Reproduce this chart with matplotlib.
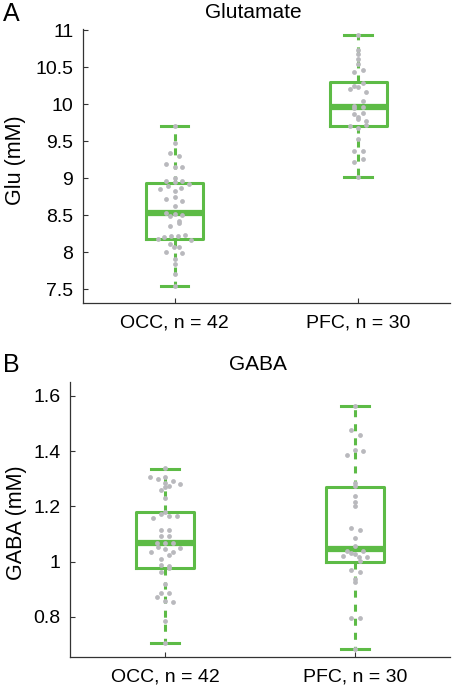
import matplotlib
matplotlib.use('Agg')
import matplotlib.pyplot as plt
import numpy as np

plt.rcParams['font.family'] = ['Liberation Sans', 'DejaVu Sans']

green = '#5dbb46'
grey = '#b9b9bd'
spine_col = '#333333'

tick_labels = ['OCC, n = 42', 'PFC, n = 30']
glu_yticks = [7.5, 8, 8.5, 9, 9.5, 10, 10.5, 11]
gaba_yticks = [0.8, 1, 1.2, 1.4, 1.6]

# box stats: whislo, q1, median, q3, whishi
glu_box_occ = [7.55, 8.18, 8.54, 8.94, 9.71]
glu_box_pfc = [9.02, 9.71, 9.96, 10.30, 10.94]
gaba_box_occ = [0.705, 0.976, 1.067, 1.178, 1.335]
gaba_box_pfc = [0.685, 1.0, 1.045, 1.271, 1.564]

# single subjects (value, horizontal offset from the box centre)
glu_occ = [9.71, 9.48, 9.34, 9.31, 9.20, 9.15, 9.15, 9.01, 8.97, 8.95,
           8.97, 8.92, 8.86, 8.90, 8.835, 8.875, 8.72, 8.755, 8.70, 8.63,
           8.54, 8.49, 8.52, 8.51, 8.43, 8.40, 8.36, 8.18, 8.21, 8.22,
           8.22, 8.235, 8.17, 8.115, 8.08, 8.07, 8.01, 7.99, 7.91, 7.85,
           7.705, 7.55]
glu_occ_dx = [0, 0, -0.024, 0.022, -0.045, 0, 0.042, 0, -0.045, 0,
              0.042, 0.078, -0.082, -0.036, 0, 0.036, -0.045, 0, 0.042, 0,
              -0.045, -0.024, 0, 0.042, 0.022, 0.022, -0.024, -0.091, -0.058, -0.022,
              0.018, 0.055, 0.091, -0.024, 0.022, -0.005, -0.045, 0.042, 0, 0,
              0, 0]

glu_pfc = [10.94, 10.735, 10.68, 10.61, 10.545, 10.445, 10.465, 10.295, 10.25, 10.23,
           10.205, 10.165, 10.045, 9.985, 9.96, 9.95, 9.87, 9.88, 9.80, 9.78,
           9.71, 9.68, 9.72, 9.53, 9.375, 9.375, 9.27, 9.22, 9.02, 9.83]
glu_pfc_dx = [0, 0, 0, 0, 0, -0.022, 0.024, 0.024, -0.022, 0,
              -0.042, 0.045, 0.024, -0.022, 0.024, -0.022, -0.022, 0.024, 0, 0.045,
              -0.042, 0, 0.045, 0, -0.022, 0.024, 0.024, -0.022, 0, 0]

gaba_occ = [1.337, 1.307, 1.299, 1.307, 1.293, 1.280, 1.283, 1.273, 1.259, 1.229,
            1.159, 1.171, 1.178, 1.166, 1.166, 1.114, 1.114, 1.093, 1.093, 1.068,
            1.068, 1.068, 1.036, 1.052, 1.044, 1.036, 1.048, 1.024, 1.008, 0.988,
            0.984, 0.976, 0.963, 0.919, 0.888, 0.888, 0.873, 0.859, 0.855, 0.786,
            0.705, 1.27]
gaba_occ_dx = [0, -0.079, -0.038, 0, 0.040, 0.079, 0, 0.021, -0.021, 0,
               -0.061, -0.021, 0, 0.021, 0.061, -0.021, 0.021, -0.021, 0.021, -0.044,
               0, 0.040, -0.075, -0.038, 0, 0.040, 0.079, 0.021, -0.021, -0.021,
               0.021, 0.021, -0.021, 0, -0.021, 0.021, -0.044, 0, 0.040, 0,
               0, 0]

gaba_pfc = [1.564, 1.476, 1.458, 1.385, 1.404, 1.400, 1.283, 1.273, 1.237, 1.217,
            1.201, 1.123, 1.113, 1.084, 1.056, 1.040, 1.032, 1.040, 1.020, 1.017,
            1.018, 1.026, 1.002, 0.968, 0.962, 0.936, 0.927, 0.797, 0.795, 0.685]
gaba_pfc_dx = [0, -0.019, 0.024, -0.044, 0, 0.044, 0, 0, 0, 0,
               0, -0.019, 0.024, 0, 0, -0.044, -0.019, 0.044, -0.063, 0.021,
               0.063, 0, 0.024, -0.019, 0.024, 0, 0, -0.019, 0.024, 0]


def make_stats(b):
    return dict(whislo=b[0], q1=b[1], med=b[2], q3=b[3], whishi=b[4], fliers=[])


def draw_panel(ax, boxes, vals, dxs, yticks, ylim):
    ax.bxp([make_stats(b) for b in boxes], positions=[1, 2], widths=0.31,
           capwidths=0.15, showfliers=False,
           boxprops=dict(color=green, lw=2.2),
           medianprops=dict(color=green, lw=4.5, solid_capstyle='butt'),
           whiskerprops=dict(color=green, lw=2.2, linestyle=(0, (2.3, 2.3))),
           capprops=dict(color=green, lw=2.2))
    for i in range(2):
        ax.scatter(np.array(dxs[i]) + i + 1, vals[i], s=12, color=grey,
                   linewidths=0, zorder=5)
    ax.set_xlim(0.5, 2.5)
    ax.set_ylim(*ylim)
    ax.set_xticks([1, 2])
    ax.set_xticklabels(tick_labels)
    ax.set_yticks(yticks)
    ax.set_yticklabels(['%g' % t for t in yticks])
    ax.spines['top'].set_visible(False)
    ax.spines['right'].set_visible(False)
    for s in ['left', 'bottom']:
        ax.spines[s].set_color(spine_col)
        ax.spines[s].set_linewidth(0.9)
    ax.tick_params(direction='in', length=3.5, width=0.8, color=spine_col,
                   labelsize=14, pad=7)
    ax.tick_params(axis='x', pad=8)


fig = plt.figure(figsize=(4.53, 6.87), dpi=100)
ax1 = fig.add_axes([0.1832, 0.559, 0.810, 0.3988])
ax2 = fig.add_axes([0.1545, 0.0437, 0.839, 0.4003])

draw_panel(ax1, [glu_box_occ, glu_box_pfc], [glu_occ, glu_pfc],
           [glu_occ_dx, glu_pfc_dx], glu_yticks, (7.318, 11.02))
draw_panel(ax2, [gaba_box_occ, gaba_box_pfc], [gaba_occ, gaba_pfc],
           [gaba_occ_dx, gaba_pfc_dx], gaba_yticks, (0.655, 1.65))

fig.text(16 / 453, 1 - 160 / 687, 'Glu (mM)', rotation=90, ha='center', va='center', fontsize=15.5)
fig.text(17 / 453, 1 - 523 / 687, 'GABA (mM)', rotation=90, ha='center', va='center', fontsize=15.5)
fig.text(253 / 453, 1 - 13 / 687, 'Glutamate', ha='center', va='center', fontsize=15)
fig.text(258 / 453, 1 - 365 / 687, 'GABA', ha='center', va='center', fontsize=15)
fig.text(11 / 453, 1 - 14 / 687, 'A', ha='center', va='center', fontsize=18)
fig.text(11 / 453, 1 - 365 / 687, 'B', ha='center', va='center', fontsize=18)

fig.savefig('out.png', dpi=100)
